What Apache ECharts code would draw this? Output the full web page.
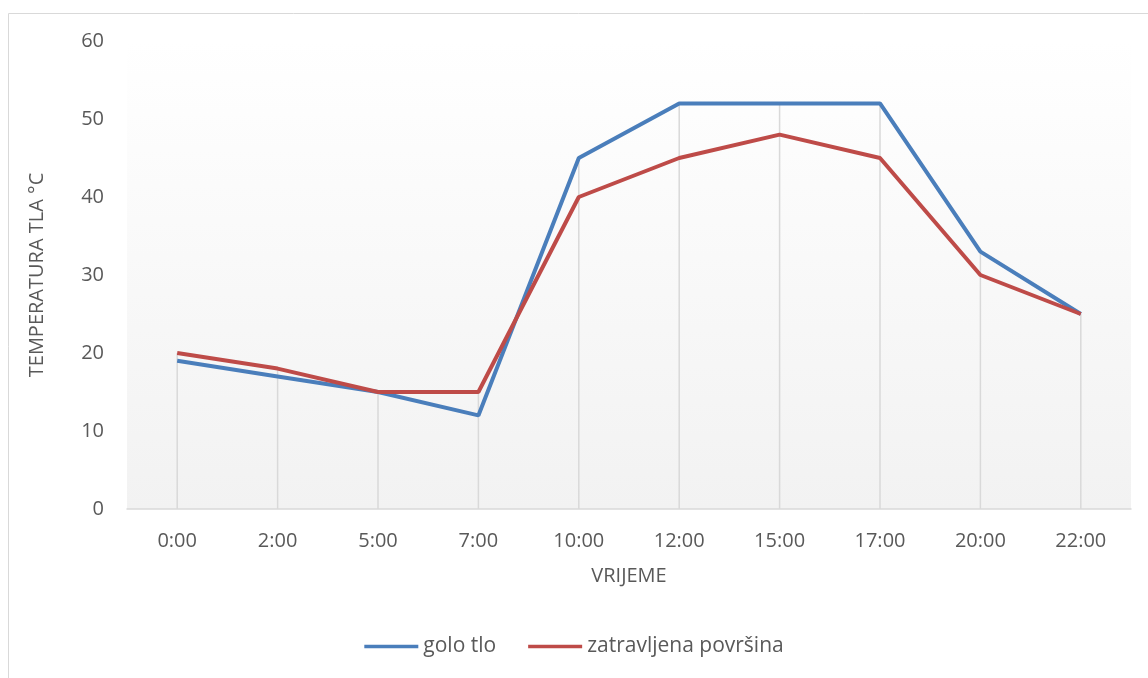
<!DOCTYPE html>
<html>
<head>
<meta charset="utf-8">
<script src="https://cdn.jsdelivr.net/npm/echarts@6/dist/echarts.min.js"></script>
<style>
  html, body { margin: 0; padding: 0; background: #fff; }
  #chart { width: 1148px; height: 678px; }
</style>
</head>
<body>
<div id="chart"></div>
<script>
// --- podaci ---
const hours = ['0:00', '2:00', '5:00', '7:00', '10:00', '12:00', '15:00', '17:00', '20:00', '22:00']
const goloTlo = [19, 17, 15, 12, 45, 52, 52, 52, 33, 25]
const zatravljena = [20, 18, 15, 15, 40, 45, 48, 45, 30, 25]

// visina okomitih linija = veća od dvije vrijednosti
const dropHeights = hours.map((h, i) => Math.max(goloTlo[i], zatravljena[i]))

const font = '"Open Sans", sans-serif'
const textColor = '#595959'

const chart = echarts.init(document.getElementById('chart'))
const option = {
  animation: false,
  textStyle: {fontFamily: font},
  graphic: [{
    type: 'rect',
    shape: {x: 8.5, y: 13.5, width: 1200, height: 800},
    style: {fill: 'none', stroke: '#d9d9d9', lineWidth: 1},
    z: -10
  }],
  grid: {
    left: 127, right: 17, top: 41, bottom: 169,
    show: true,
    borderWidth: 0,
    backgroundColor: new echarts.graphic.LinearGradient(0, 0, 0, 1, [
      {offset: 0, color: '#ffffff'},
      {offset: 1, color: '#f2f2f2'}
    ])
  },
  legend: {
    bottom: 16,
    left: 'center',
    itemWidth: 54,
    itemHeight: 3.5,
    itemGap: 32,
    icon: 'rect',
    textStyle: {color: textColor, fontSize: 21, fontFamily: font},
    data: ['golo tlo', 'zatravljena površina']
  },
  xAxis: {
    type: 'category',
    data: hours,
    boundaryGap: true,
    name: 'VRIJEME',
    nameLocation: 'middle',
    nameGap: 57,
    nameTextStyle: {color: textColor, fontSize: 20},
    axisLine: {lineStyle: {color: '#d9d9d9', width: 1.5}},
    axisTick: {show: false},
    axisLabel: {color: textColor, fontSize: 20, margin: 22}
  },
  yAxis: {
    type: 'value',
    min: 0, max: 60, interval: 10,
    name: 'TEMPERATURA TLA °C',
    nameLocation: 'middle',
    nameGap: 80,
    nameTextStyle: {color: textColor, fontSize: 20},
    axisLine: {show: false},
    axisTick: {show: false},
    splitLine: {show: false},
    axisLabel: {color: textColor, fontSize: 20, margin: 23}
  },
  series: [
    {
      name: 'drop',
      type: 'bar',
      data: dropHeights,
      barWidth: 1.5,
      silent: true,
      itemStyle: {color: '#d9d9d9'},
      z: 1
    },
    {
      name: 'golo tlo',
      type: 'line',
      data: goloTlo,
      symbol: 'none',
      lineStyle: {color: '#4a7ebb', width: 4},
      itemStyle: {color: '#4a7ebb'},
      z: 3
    },
    {
      name: 'zatravljena površina',
      type: 'line',
      data: zatravljena,
      symbol: 'none',
      lineStyle: {color: '#be4b48', width: 4},
      itemStyle: {color: '#be4b48'},
      z: 4
    }
  ]
}
chart.setOption(option)
</script>
</body>
</html>
